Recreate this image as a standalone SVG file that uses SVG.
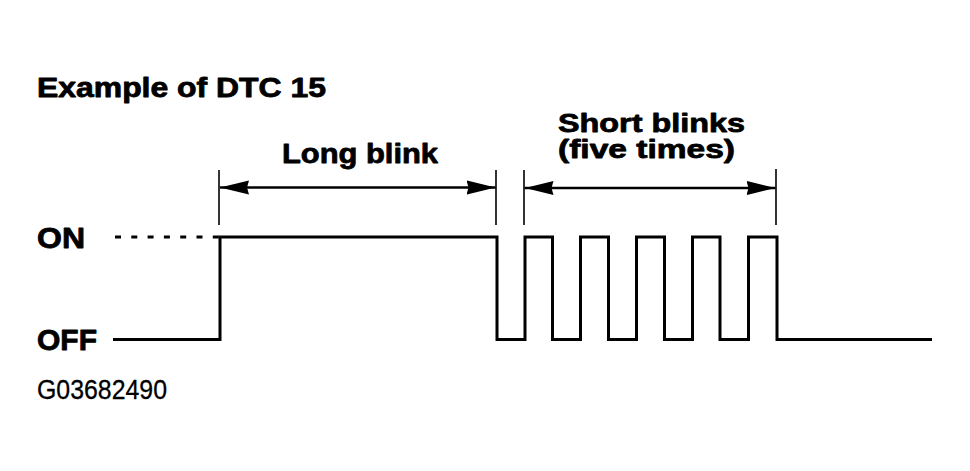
<svg xmlns="http://www.w3.org/2000/svg" width="970" height="471" viewBox="0 0 970 471">
<style>
  .b { font-family: "Liberation Sans", Arial, sans-serif; font-weight: bold; fill: #000; stroke: #000; stroke-width: 0.8; stroke-linejoin: round; }
  .r { font-family: "Liberation Sans", Arial, sans-serif; font-weight: normal; fill: #000; stroke: #000; stroke-width: 0.3; }
  .wave { fill: none; stroke: #000; stroke-width: 3; stroke-linejoin: miter; stroke-linecap: butt; }
  .ext { stroke: #000; stroke-width: 1.6; fill: none; }
  .dim { stroke: #000; stroke-width: 2.6; fill: none; }
  .dash { stroke: #000; stroke-width: 3; stroke-dasharray: 6 10.3; fill: none; }
</style>
<defs>
  <marker id="ah" markerUnits="userSpaceOnUse" viewBox="0 0 29 15" refX="29" refY="7.5" markerWidth="29" markerHeight="15" orient="auto-start-reverse">
    <path d="M0,0.5 L29,7.5 L0,14.5 L2,7.5 Z" fill="#000"/>
  </marker>
</defs>
<rect width="970" height="471" fill="#fff"/>

<g id="title">
  <text class="b" x="37" y="97" font-size="27" textLength="289" lengthAdjust="spacingAndGlyphs">Example of DTC 15</text>
</g>
<g id="label-on">
  <text class="b" x="37" y="248" font-size="29" textLength="48" lengthAdjust="spacingAndGlyphs">ON</text>
</g>
<g id="label-off">
  <text class="b" x="37" y="350" font-size="29" textLength="60" lengthAdjust="spacingAndGlyphs">OFF</text>
</g>
<g id="figure-id">
  <text class="r" x="37" y="399" font-size="27" textLength="130" lengthAdjust="spacingAndGlyphs">G03682490</text>
</g>
<g id="long-blink">
  <text class="b" x="282" y="163" font-size="28" textLength="156" lengthAdjust="spacingAndGlyphs">Long blink</text>
</g>
<g id="short-blinks">
  <text class="b" x="558" y="132" font-size="26" textLength="187" lengthAdjust="spacingAndGlyphs">Short blinks</text>
  <text class="b" x="558" y="158" font-size="26" textLength="177" lengthAdjust="spacingAndGlyphs">(five times)</text>
</g>

<g id="waveform">
  <line class="dash" x1="115" y1="237" x2="219" y2="237"/>
  <path class="wave" d="M113,339.5 H220 V237 H497 V339.5 H525 V237 H552.5 V339.5 H580.5 V237 H608.5 V339.5 H636.5 V237 H664.5 V339.5 H692.5 V237 H720 V339.5 H748.5 V237 H777 V339.5 H932"/>
</g>

<g id="connectors">
  <line class="ext" x1="219" y1="170" x2="219" y2="225"/>
  <line class="ext" x1="496" y1="170" x2="496" y2="225"/>
  <line class="ext" x1="524" y1="170" x2="524" y2="225"/>
  <line class="ext" x1="776" y1="169" x2="776" y2="225"/>
  <line class="dim" x1="220" y1="187.5" x2="495.5" y2="187.5" marker-start="url(#ah)" marker-end="url(#ah)"/>
  <line class="dim" x1="524.5" y1="188" x2="775.5" y2="188" marker-start="url(#ah)" marker-end="url(#ah)"/>
</g>
</svg>
